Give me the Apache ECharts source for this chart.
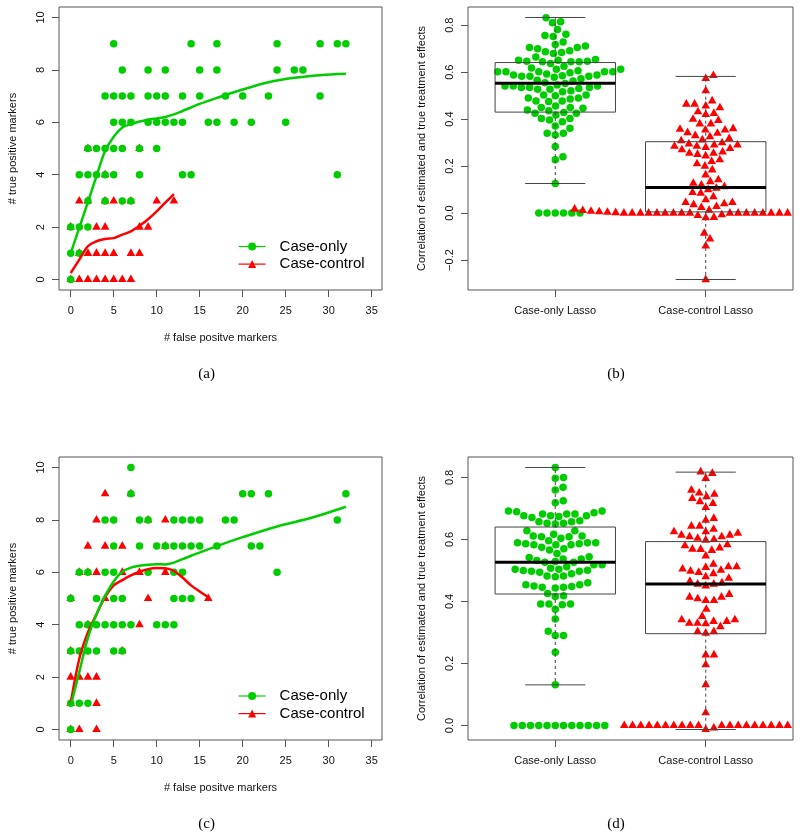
<!DOCTYPE html>
<html><head><meta charset="utf-8">
<script src="https://cdn.jsdelivr.net/npm/echarts@6/dist/echarts.min.js"></script>
<style>html,body{margin:0;padding:0;background:#fff}#c{width:800px;height:839px}</style>
</head><body><div id="c"></div>
<script>
// ---------------- data ----------------
const fpTicks = [0, 5, 10, 15, 20, 25, 30, 35];
const tpTicks = [0, 2, 4, 6, 8, 10];
const corrTicksB = [-0.2, 0, 0.2, 0.4, 0.6, 0.8];
const corrTicksD = [0, 0.2, 0.4, 0.6, 0.8];
const boxCategories = ['Case-only Lasso', 'Case-control Lasso'];
const legendNames = ['Case-only', 'Case-control'];
const captions = ['(a)', '(b)', '(c)', '(d)'];

// panel (a): [false positives, true positives]
const aCaseOnlyPts = [[5,9],[14,9],[17,9],[24,9],[29,9],[31,9],[32,9],
  [6,8],[9,8],[11,8],[15,8],[17,8],[24,8],[26,8],[27,8],
  [4,7],[5,7],[6,7],[7,7],[9,7],[10,7],[11,7],[13,7],[15,7],[18,7],[20,7],[23,7],[29,7],
  [5,6],[6,6],[7,6],[9,6],[10,6],[11,6],[12,6],[13,6],[16,6],[17,6],[19,6],[21,6],[25,6],
  [2,5],[3,5],[4,5],[5,5],[6,5],[8,5],[10,5],
  [1,4],[2,4],[3,4],[4,4],[5,4],[8,4],[13,4],[14,4],[31,4],
  [2,3],[4,3],[6,3],[7,3],[0,2],[1,2],[2,2],[0,1],[1,1],[0,0]];
const aCaseControlPts = [[2,5],[8,5],[4,4],[1,3],[2,3],[4,3],[5,3],[7,3],[10,3],[12,3],
  [0,2],[3,2],[4,2],[8,2],[9,2],[1,1],[2,1],[3,1],[4,1],[5,1],[7,1],[8,1],
  [0,0],[1,0],[2,0],[3,0],[4,0],[5,0],[6,0],[7,0]];
const aCaseOnlyCurve = [[0,1.0],[1,1.98],[2,2.95],[3,3.95],[4,4.9],[5,5.45],[6,5.8],[7,5.93],[8,6.03],[9,6.1],[10,6.15],[11,6.2],[12,6.3],[13,6.43],[15,6.7],[17,6.93],[20,7.25],[23,7.53],[26,7.7],[29,7.8],[32,7.85]];
const aCaseControlCurve = [[0,0.25],[1,0.76],[2,1.27],[3,1.46],[4,1.55],[5,1.58],[6,1.71],[7,1.84],[8,2.05],[9,2.3],[10,2.6],[11,2.93],[12,3.26]];

// panel (c)
const cCaseOnlyPts = [[7,10],[7,9],[20,9],[21,9],[23,9],[32,9],
  [4,8],[5,8],[8,8],[9,8],[12,8],[13,8],[14,8],[15,8],[18,8],[19,8],[31,8],
  [5,7],[8,7],[10,7],[11,7],[12,7],[13,7],[14,7],[15,7],[17,7],[21,7],[22,7],
  [1,6],[2,6],[4,6],[5,6],[9,6],[12,6],[13,6],[24,6],
  [0,5],[3,5],[5,5],[6,5],[12,5],[13,5],[14,5],
  [1,4],[2,4],[3,4],[4,4],[5,4],[6,4],[7,4],[10,4],[11,4],[12,4],
  [0,3],[1,3],[2,3],[3,3],[5,3],[6,3],[0,1],[1,1],[2,1],[0,0]];
const cCaseControlPts = [[4,9],[7,9],[3,8],[9,8],[11,8],[2,7],[4,7],[6,7],[11,7],
  [1,6],[2,6],[3,6],[6,6],[8,6],[11,6],[0,5],[4,5],[9,5],[16,5],[2,4],[8,4],
  [0,3],[6,3],[0,2],[1,2],[2,2],[3,2],[0,1],[3,1],[0,0],[1,0],[3,0]];
const cCaseOnlyCurve = [[0,0.9],[1,2.2],[2,3.5],[3,4.4],[4,5.1],[5,5.65],[6,6.02],[7,6.18],[8,6.25],[9,6.29],[10,6.31],[11,6.3],[12,6.37],[13,6.5],[14,6.63],[17,7.0],[20,7.34],[24,7.75],[28,8.08],[32,8.5]];
const cCaseControlCurve = [[0,1.0],[1,2.7],[2,3.7],[3,4.4],[4,5.05],[5,5.5],[6,5.7],[7,5.88],[8,6.02],[9,6.12],[10,6.16],[11,6.15],[12,6.05],[13,5.8],[14,5.5],[15,5.27],[16,5.05]];

// panel (b): correlations per simulation
const bCaseOnlyCorr = [0.832,0.81,0.815,0.782,0.762,0.756,0.752,0.729,0.718,0.712,0.705,0.705,0.70,0.691,0.687,0.684,0.68,0.665,
  0.654,0.651,0.651,0.647,0.647,0.644,0.644,0.644,0.637,0.625,0.618,0.612,0.612,0.606,0.602,0.602,0.602,0.602,0.602,0.598,
  0.592,0.588,0.588,0.585,0.583,0.583,0.583,0.578,0.572,0.566,0.562,0.555,0.552,0.545,0.541,0.541,0.541,0.535,0.535,0.535,
  0.531,0.527,0.527,0.521,0.517,0.503,0.503,0.5,0.49,0.49,0.486,0.477,0.477,0.475,0.456,0.45,0.45,0.446,0.439,0.436,0.428,
  0.425,0.425,0.418,0.403,0.403,0.396,0.389,0.371,0.361,0.34,0.34,0.333,0.283,0.24,0.227,0.126,0,0,0,0,0,0];
const bCaseControlCorr = [-0.283,-0.14,-0.11,-0.085,-0.02,-0.018,-0.01,-0.007,
  0,0,0,0,0,0,0,0,0,0,0,0,0,0,0,0,0,
  0.002,0.003,0.004,0.005,0.006,0.007,0.008,0.01,0.011,0.012,0.014,0.017,0.02,0.024,0.028,
  0.036,0.04,0.045,0.045,0.057,0.07,0.085,0.088,0.1,0.106,
  0.113,0.12,0.127,0.134,0.142,0.163,0.184,0.2,0.21,0.22,0.227,0.244,0.25,0.255,0.255,0.26,0.27,0.275,0.28,0.285,0.285,0.29,0.29,0.295,0.3,
  0.308,0.312,0.318,0.325,0.33,0.34,0.343,0.354,0.354,0.357,0.36,0.38,0.38,0.395,0.40,0.42,0.425,0.432,0.449,0.456,0.464,0.464,0.478,0.521,0.573,0.586];
// box stats: [lower whisker, Q1, median, Q3, upper whisker]
const bCaseOnlyBox = [0.126, 0.43, 0.553, 0.641, 0.833];
const bCaseControlBox = [-0.283, 0.005, 0.109, 0.304, 0.582];

// panel (d)
const dCaseOnlyCorr = [0.832,0.8,0.797,0.768,0.759,0.725,0.718,0.692,0.692,0.689,0.686,0.682,0.682,0.682,0.676,0.676,0.676,0.674,0.671,
  0.66,0.657,0.657,0.652,0.652,0.65,0.628,0.628,0.617,0.611,0.611,0.609,0.609,0.604,0.596,0.589,0.589,0.589,0.586,0.586,0.583,0.583,0.583,
  0.575,0.57,0.566,0.555,0.544,0.542,0.537,0.537,0.532,0.529,0.526,0.526,0.518,0.518,0.512,0.507,0.504,0.504,0.501,0.5,0.497,0.497,0.494,
  0.489,0.482,0.482,0.48,0.46,0.454,0.454,0.45,0.448,0.446,0.446,0.443,0.426,0.418,0.416,0.392,0.392,0.392,0.389,0.375,0.343,0.304,0.29,0.29,
  0.236,0.131,0,0,0,0,0,0,0,0,0,0,0,0];
const dCaseControlCorr = [0.818,0.813,0.797,0.759,0.75,0.746,0.738,0.732,0.722,0.716,0.703,0.668,0.662,0.643,0.643,0.633,0.625,0.62,0.625,
  0.614,0.614,0.609,0.609,0.604,0.6,0.598,0.583,0.58,0.573,0.569,0.568,0.565,0.547,0.52,0.512,0.512,0.51,0.505,0.501,0.498,0.494,0.49,
  0.48,0.475,0.465,0.46,0.456,0.456,0.45,0.423,0.414,0.414,0.409,0.403,0.403,0.375,0.352,0.341,0.341,0.336,0.336,0.33,0.33,0.328,0.319,
  0.303,0.303,0.298,0.228,0.228,0.196,0.132,0.041,-0.008,-0.013,
  0,0,0,0,0,0,0,0,0,0,0,0,0,0,0,0,0,0,0];
const dCaseOnlyBox = [0.131, 0.424, 0.526, 0.64, 0.832];
const dCaseControlBox = [-0.013, 0.296, 0.456, 0.593, 0.817];

// ---------------- styling ----------------
const FONT = '"Liberation Sans", Arial, Helvetica, sans-serif';
const GREEN = '#00CD00', RED = '#FF0000', LINE = '#555';
const chart = echarts.init(document.getElementById('c'), null, {renderer: 'canvas'});

const gridDefs = [
  {left: 59, top: 7, width: 323, height: 283},
  {left: 468, top: 7, width: 325, height: 283},
  {left: 59, top: 457, width: 323, height: 283},
  {left: 468, top: 457, width: 325, height: 283}
].map(g => Object.assign(g, {show: true, borderColor: LINE, borderWidth: 1, backgroundColor: 'transparent', containLabel: false, outerBoundsMode: 'none'}));

function xAx(gi, min, max, ticks, fmt, name) {
  return {type: 'value', gridIndex: gi, min, max,
    axisLine: {show: false, onZero: false},
    axisTick: {show: true, length: 7, customValues: ticks, lineStyle: {color: LINE}},
    axisLabel: {customValues: ticks, formatter: fmt, fontSize: 11, fontFamily: FONT, color: '#111', margin: 15},
    splitLine: {show: false},
    name: name || '', nameLocation: 'middle', nameGap: 42,
    nameTextStyle: {fontSize: 11, fontFamily: FONT, color: '#111'}};
}
function yAx(gi, min, max, ticks, fmt, name, gap) {
  return {type: 'value', gridIndex: gi, min, max,
    axisLine: {show: false, onZero: false},
    axisTick: {show: true, length: 7, customValues: ticks, lineStyle: {color: LINE}},
    axisLabel: {customValues: ticks, formatter: fmt, rotate: 90, fontSize: 11, fontFamily: FONT, color: '#111', margin: 13},
    splitLine: {show: false},
    name, nameLocation: 'middle', nameGap: gap,
    nameTextStyle: {fontSize: 11, fontFamily: FONT, color: '#111'}};
}
const intFmt = v => String(Math.round(v));
const corrFmt = v => v.toFixed(1).replace('-', '\u2212');
const catFmt = v => boxCategories[Math.round(v) - 1];

function mkLegend(top) {
  return {orient: 'vertical', left: 238, top, padding: 0, itemWidth: 27, itemHeight: 10, itemGap: 2.6,
    selectedMode: false, data: legendNames,
    textStyle: {fontFamily: FONT, fontSize: 15, color: '#000', padding: [0, 0, 0, 9]},
    lineStyle: {width: 1.2}};
}

function ptsSeries(id, gi, data, color, symbol) {
  return {id, type: 'scatter', xAxisIndex: gi, yAxisIndex: gi, data, silent: true,
    symbol, symbolSize: symbol === 'circle' ? 7.5 : [8.6, 7.6], symbolOffset: symbol === 'circle' ? [0, 0] : [0, -1.2],
    itemStyle: {color, opacity: 1}};
}
function curveSeries(name, gi, data, color, symbol) {
  return {name, type: 'line', xAxisIndex: gi, yAxisIndex: gi, data, smooth: 0.35, showSymbol: false,
    symbol, symbolSize: 8, lineStyle: {width: 2.5, color}, itemStyle: {color}, silent: true};
}
function renderBox(params, api) {
  const pos = api.value(0), lo = api.value(1), q1 = api.value(2), med = api.value(3), q3 = api.value(4), hi = api.value(5);
  const boxW = 0.8, capW = 0.4;
  const xl = api.coord([pos - boxW / 2, med])[0], xr = api.coord([pos + boxW / 2, med])[0];
  const cl = api.coord([pos - capW / 2, med])[0], cr = api.coord([pos + capW / 2, med])[0];
  const xc = api.coord([pos, med])[0];
  const yHi = api.coord([pos, hi])[1], yLo = api.coord([pos, lo])[1];
  const yQ1 = api.coord([pos, q1])[1], yQ3 = api.coord([pos, q3])[1], yMed = api.coord([pos, med])[1];
  const thin = {stroke: '#444', lineWidth: 1, fill: null};
  return {type: 'group', children: [
    {type: 'line', shape: {x1: xc, y1: yQ3, x2: xc, y2: yHi}, style: Object.assign({}, thin, {lineDash: [3, 3]})},
    {type: 'line', shape: {x1: xc, y1: yQ1, x2: xc, y2: yLo}, style: Object.assign({}, thin, {lineDash: [3, 3]})},
    {type: 'line', shape: {x1: cl, y1: yHi, x2: cr, y2: yHi}, style: thin},
    {type: 'line', shape: {x1: cl, y1: yLo, x2: cr, y2: yLo}, style: thin},
    {type: 'rect', shape: {x: xl, y: yQ3, width: xr - xl, height: yQ1 - yQ3}, style: thin},
    {type: 'line', shape: {x1: xl, y1: yMed, x2: xr, y2: yMed}, style: {stroke: '#000', lineWidth: 3}}
  ]};
}
function boxSeries(gi, stats) {
  return {type: 'custom', xAxisIndex: gi, yAxisIndex: gi, z: 5, silent: true, clip: false,
    renderItem: renderBox, encode: {x: 0, y: [1, 2, 3, 4, 5]},
    data: stats.map((s, i) => [i + 1].concat(s))};
}
const capStyle = {font: '15px "Liberation Serif", "DejaVu Serif", serif', fill: '#000', textAlign: 'center', textVerticalAlign: 'middle'};
const capPos = [[206.6, 374.3], [616, 374.3], [206.6, 824.3], [616, 824.3]];

const option = {
  animation: false,
  backgroundColor: '#fff',
  textStyle: {fontFamily: FONT},
  grid: gridDefs,
  xAxis: [
    xAx(0, -1.36, 36.2, fpTicks, intFmt, '# false positve markers'),
    xAx(1, 0.42, 2.58, [1, 2], catFmt, ''),
    xAx(2, -1.36, 36.2, fpTicks, intFmt, '# false positve markers'),
    xAx(3, 0.42, 2.58, [1, 2], catFmt, '')
  ],
  yAxis: [
    yAx(0, -0.4, 10.4, tpTicks, intFmt, '# true positive markers', 41),
    yAx(1, -0.3276, 0.8776, corrTicksB, corrFmt, 'Correlation of estimated and true treatment effects', 40.5),
    yAx(2, -0.4, 10.4, tpTicks, intFmt, '# true positive markers', 41),
    yAx(3, -0.0468, 0.8658, corrTicksD, corrFmt, 'Correlation of estimated and true treatment effects', 40.5)
  ],
  legend: [mkLegend(239), mkLegend(688.5)],
  graphic: captions.map((t, i) => ({type: 'text', x: capPos[i][0], y: capPos[i][1], style: Object.assign({text: t}, capStyle)})),
  series: [
    ptsSeries('aCC', 0, aCaseControlPts, RED, 'triangle'),
    ptsSeries('aCO', 0, aCaseOnlyPts, GREEN, 'circle'),
    curveSeries('Case-control', 0, aCaseControlCurve, RED, 'triangle'),
    curveSeries('Case-only', 0, aCaseOnlyCurve, GREEN, 'circle'),
    ptsSeries('cCC', 2, cCaseControlPts, RED, 'triangle'),
    ptsSeries('cCO', 2, cCaseOnlyPts, GREEN, 'circle'),
    curveSeries('Case-control', 2, cCaseControlCurve, RED, 'triangle'),
    curveSeries('Case-only', 2, cCaseOnlyCurve, GREEN, 'circle'),
    ptsSeries('bCO', 1, [], GREEN, 'circle'),
    ptsSeries('bCC', 1, [], RED, 'triangle'),
    ptsSeries('dCO', 3, [], GREEN, 'circle'),
    ptsSeries('dCC', 3, [], RED, 'triangle'),
    boxSeries(1, [bCaseOnlyBox, bCaseControlBox]),
    boxSeries(3, [dCaseOnlyBox, dCaseControlBox])
  ]
};
chart.setOption(option);

// beeswarm ("swarm" method, ascending priority) computed in pixel space via the axes
function swarmPoints(values, gridIndex, center, slot) {
  const p0 = chart.convertToPixel({gridIndex}, [center, 0]);
  const p1 = chart.convertToPixel({gridIndex}, [center + 1, 0]);
  const xPerUnit = p1[0] - p0[0];
  const items = values.map(v => ({v, py: chart.convertToPixel({gridIndex}, [center, v])[1], off: 0}));
  const order = items.slice().sort((a, b) => a.v - b.v);
  const placed = [];
  order.forEach(it => {
    const near = placed.filter(p => Math.abs(p.py - it.py) < slot);
    if (!near.length) { it.off = 0; placed.push(it); return; }
    near.sort((a, b) => Math.abs(a.off) - Math.abs(b.off));
    const d = near.map(p => Math.sqrt(slot * slot - (p.py - it.py) * (p.py - it.py)));
    const cands = [0].concat(near.map((p, i) => p.off + d[i]), near.map((p, i) => p.off - d[i]));
    let best = Infinity;
    cands.forEach(c => {
      const bad = near.some(p => (c - p.off) * (c - p.off) + (p.py - it.py) * (p.py - it.py) < 0.999 * slot * slot);
      if (!bad && Math.abs(c) < Math.abs(best)) best = c;
    });
    it.off = best; placed.push(it);
  });
  return items.map(it => [center + it.off / xPerUnit, it.v]);
}
const SLOT = 8.25;
chart.setOption({series: [
  {id: 'bCO', data: swarmPoints(bCaseOnlyCorr, 1, 1, SLOT)},
  {id: 'bCC', data: swarmPoints(bCaseControlCorr, 1, 2, SLOT)},
  {id: 'dCO', data: swarmPoints(dCaseOnlyCorr, 3, 1, SLOT)},
  {id: 'dCC', data: swarmPoints(dCaseControlCorr, 3, 2, SLOT)}
]});
</script></body></html>
